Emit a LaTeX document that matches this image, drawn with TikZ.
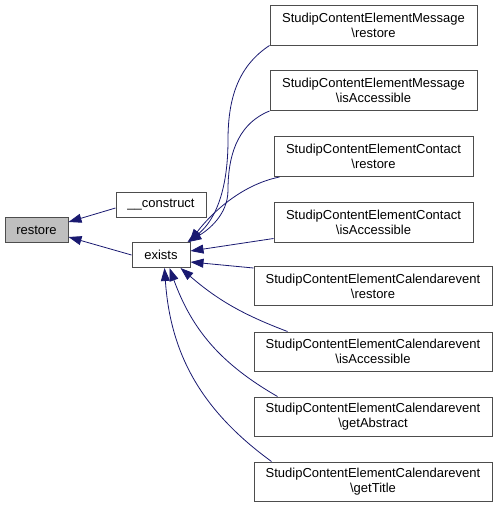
\documentclass[tikz,border=0pt]{standalone}
\usepackage{fontspec}
\setmainfont{Liberation Sans}
\usetikzlibrary{arrows.meta,calc}
\definecolor{edgeblue}{HTML}{191970}
\definecolor{boxline}{HTML}{4D4D4D}

\begin{document}
\begin{tikzpicture}[x=1pt,y=-1pt,
  fn/.style={draw=boxline,line width=1pt,fill=white,inner sep=0pt,align=center,
    font=\fontsize{13}{15}\selectfont},
  msgbox/.style={fn,minimum width=207,minimum height=40},
  conbox/.style={fn,minimum width=199,minimum height=40},
  calbox/.style={fn,minimum width=238,minimum height=39},
  call/.style={draw=edgeblue,line width=0.8pt,-{Triangle[length=13pt,width=9pt]}}]
\useasboundingbox (0,0) rectangle (497,509);
\node[fn,fill=gray!50,minimum width=63,minimum height=25] (restore) at (36.5,230) {restore};
\node[fn,minimum width=90,minimum height=25] (construct) at (161,204.5) {\_\_construct};
\node[fn,minimum width=58,minimum height=25] (exists) at (161,255) {exists};
\node[msgbox] (msgrestore) at (373.5,25) {StudipContentElementMessage\\\textbackslash restore};
\node[msgbox] (msgaccess) at (373.5,90.5) {StudipContentElementMessage\\\textbackslash isAccessible};
\node[conbox] (conrestore) at (373.5,156.5) {StudipContentElementContact\\\textbackslash restore};
\node[conbox] (conaccess) at (373.5,222) {StudipContentElementContact\\\textbackslash isAccessible};
\node[calbox] (calrestore) at (373,286) {StudipContentElementCalendarevent\\\textbackslash restore};
\node[calbox] (calaccess) at (373,351.5) {StudipContentElementCalendarevent\\\textbackslash isAccessible};
\node[calbox] (calabstract) at (373,416.5) {StudipContentElementCalendarevent\\\textbackslash getAbstract};
\node[calbox] (caltitle) at (373,481.5) {StudipContentElementCalendarevent\\\textbackslash getTitle};
\draw[call] ($(construct.west)+(0,3.5)$) -- ($(restore.east)+(0,-8)$);
\draw[call] (exists.west) -- ($(restore.east)+(0,7)$);
\draw[call] (msgrestore.south west) .. controls (240,65) and (228,95) .. (228,140)
  .. controls (228,200) and (210,225) .. ($(exists.north east)+(-3,0)$);
\draw[call] (msgaccess.south west) .. controls (235,125) and (228,160) .. (228,190)
  .. controls (228,215) and (208,230) .. ($(exists.north east)+(-2,0)$);
\draw[call] ($(conrestore.south west)+(6,0)$) .. controls (240,185) and (210,215) .. ($(exists.north east)+(-1,0)$);
\draw[call] ($(conaccess.south west)+(0,-4)$) -- ($(exists.east)+(0,-4)$);
\draw[call] ($(calrestore.north west)+(0,2)$) -- ($(exists.east)+(0,7)$);
\draw[call] ($(calaccess.north west)+(34,0)$) to[bend left=10] ($(exists.south east)+(-10,0)$);
\draw[call] ($(calabstract.north west)+(24,0)$) to[bend left=20] ($(exists.south east)+(-21,0)$);
\draw[call] ($(caltitle.north west)+(18,0)$) to[bend left=25] ($(exists.south east)+(-26,0)$);
\end{tikzpicture}
\end{document}
